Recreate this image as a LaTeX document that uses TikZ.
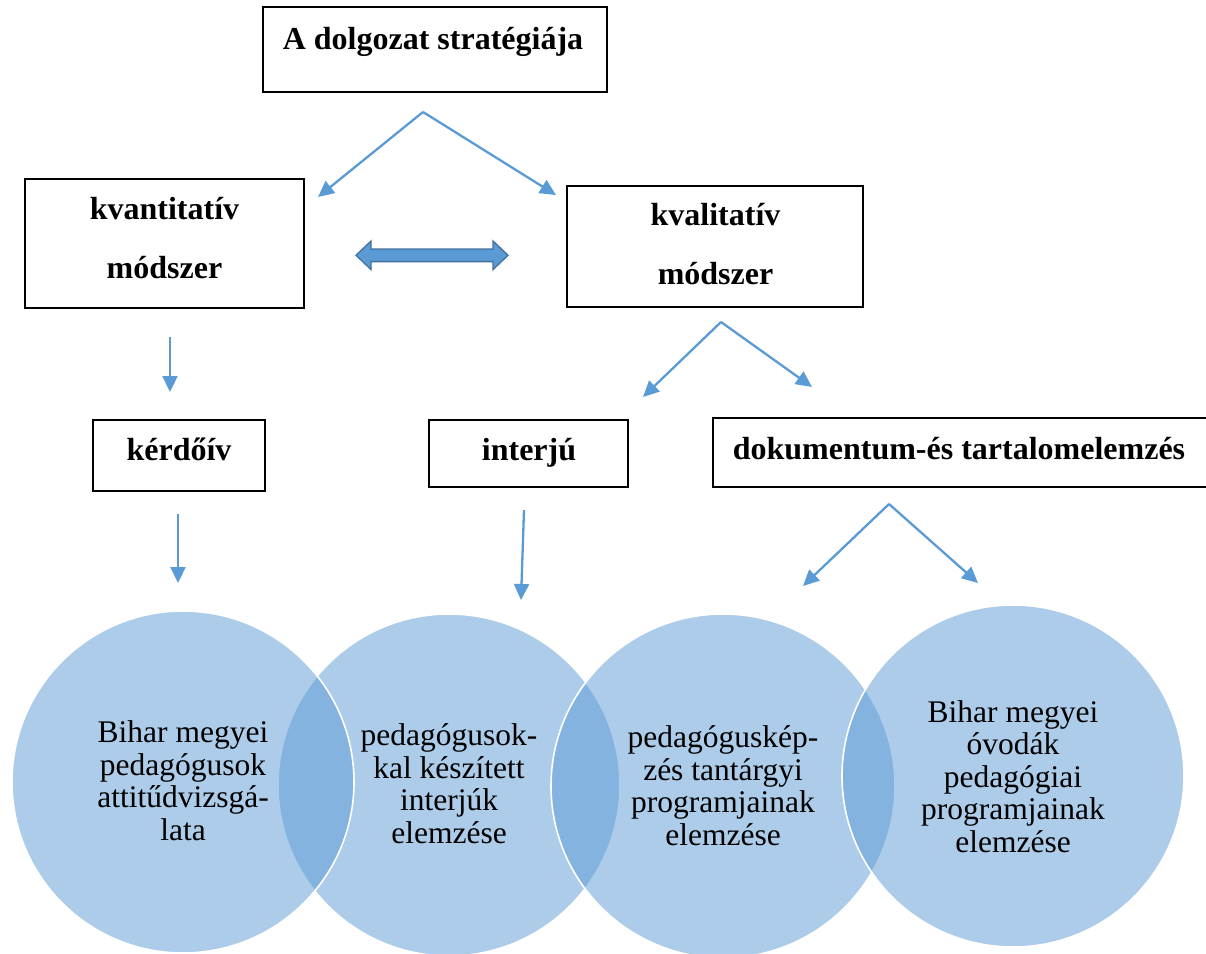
\documentclass[tikz,border=0pt]{standalone}
\usepackage{fontspec}
\setmainfont{Liberation Serif}
\usetikzlibrary{arrows.meta}
\definecolor{acc}{HTML}{5B9BD5}
\definecolor{accdark}{HTML}{41719C}
\begin{document}
\begin{tikzpicture}[x=1pt,y=-1pt,
  boxnode/.style={draw=black, line width=1.3pt, rectangle, inner sep=0pt, outer sep=0pt, anchor=north west},
  lbl/.style={font=\fontsize{32}{59}\selectfont\bfseries, anchor=base, inner sep=0pt, align=center},
  ctext/.style={font=\fontsize{31.5}{32.5}\selectfont, anchor=base, inner sep=0pt, align=center},
  venn/.style={circle, fill=acc, fill opacity=0.5, draw=white, line width=1.6pt, inner sep=0pt, outer sep=0pt},
  arr/.style={draw=acc, line width=2.3pt, -{Triangle[length=16pt,width=15pt]}},
  dblarrow/.style={fill=acc, draw=accdark, line width=1.3pt, line join=miter}
]
\path[use as bounding box, fill=white] (0,0) rectangle (1206,953);

% boxes
\node[boxnode, minimum width=344pt, minimum height=85pt] (top) at (263,7) {};
\node[boxnode, minimum width=279pt, minimum height=129pt] (kvant) at (25,179) {};
\node[boxnode, minimum width=296pt, minimum height=121pt] (kval) at (567,186) {};
\node[boxnode, minimum width=172pt, minimum height=71pt] (kerd) at (93,420) {};
\node[boxnode, minimum width=199pt, minimum height=67pt] (interju) at (429,420) {};
\node[boxnode, minimum width=510pt, minimum height=69pt] (dok) at (713,418) {};

% box texts (base anchor = baseline of the last line)
\node[lbl] (topT) at (433,49) {A dolgozat stratégiája};
\node[lbl] (kvantT) at (164.5,278) {kvantitatív\\módszer};
\node[lbl] (kvalT) at (715.5,284) {kvalitatív\\módszer};
\node[lbl] (kerdT) at (179,460) {kérdőív};
\node[lbl] (interjuT) at (529,460) {interjú};
\node[lbl] (dokT) at (959,459) {dokumentum-és tartalomelemzés};

% arrow coordinates
\coordinate (s1) at (423,112);
\coordinate (e1a) at (318,197);
\coordinate (e1b) at (556,195);
\coordinate (s2) at (170,337);
\coordinate (e2) at (170,392);
\coordinate (s3) at (721,322);
\coordinate (e3a) at (643,397);
\coordinate (e3b) at (812,387);
\coordinate (s4) at (178,514);
\coordinate (e4) at (178,583);
\coordinate (s5) at (524,510);
\coordinate (e5) at (521,600);
\coordinate (s6) at (889,504);
\coordinate (e6a) at (803,586);
\coordinate (e6b) at (978,583);

\draw[arr] (s1) -- (e1a);
\draw[arr] (s1) -- (e1b);
\draw[arr] (s2) -- (e2);
\draw[arr] (s3) -- (e3a);
\draw[arr] (s3) -- (e3b);
\draw[arr] (s4) -- (e4);
\draw[arr] (s5) -- (e5);
\draw[arr] (s6) -- (e6a);
\draw[arr] (s6) -- (e6b);

% double arrow between the two method boxes
\draw[dblarrow] (356,255.3) -- (371,241) -- (371,249) -- (493,249) -- (493,241)
  -- (508,255.3) -- (493,269.6) -- (493,261.6) -- (371,261.6) -- (371,269.6) -- cycle;

% venn circles (drawing order as in the original)
\node[venn, minimum size=342pt] (c2) at (449,785) {};
\node[venn, minimum size=342pt] (c1) at (183,782) {};
\node[venn, minimum size=344pt] (c3) at (723,786) {};
\node[venn, minimum size=342pt] (c4) at (1013,776) {};

% circle texts
\node[ctext] (t1) at (183,840) {Bihar megyei\\pedagógusok\\attitűdvizsgá-\\lata};
\node[ctext] (t2) at (449,843) {pedagógusok-\\kal készített\\interjúk\\elemzése};
\node[ctext] (t3) at (723,845) {pedagóguskép-\\zés tantárgyi\\programjainak\\elemzése};
\node[ctext] (t4) at (1013,852) {Bihar megyei\\óvodák\\pedagógiai\\programjainak\\elemzése};
\end{tikzpicture}
\end{document}
